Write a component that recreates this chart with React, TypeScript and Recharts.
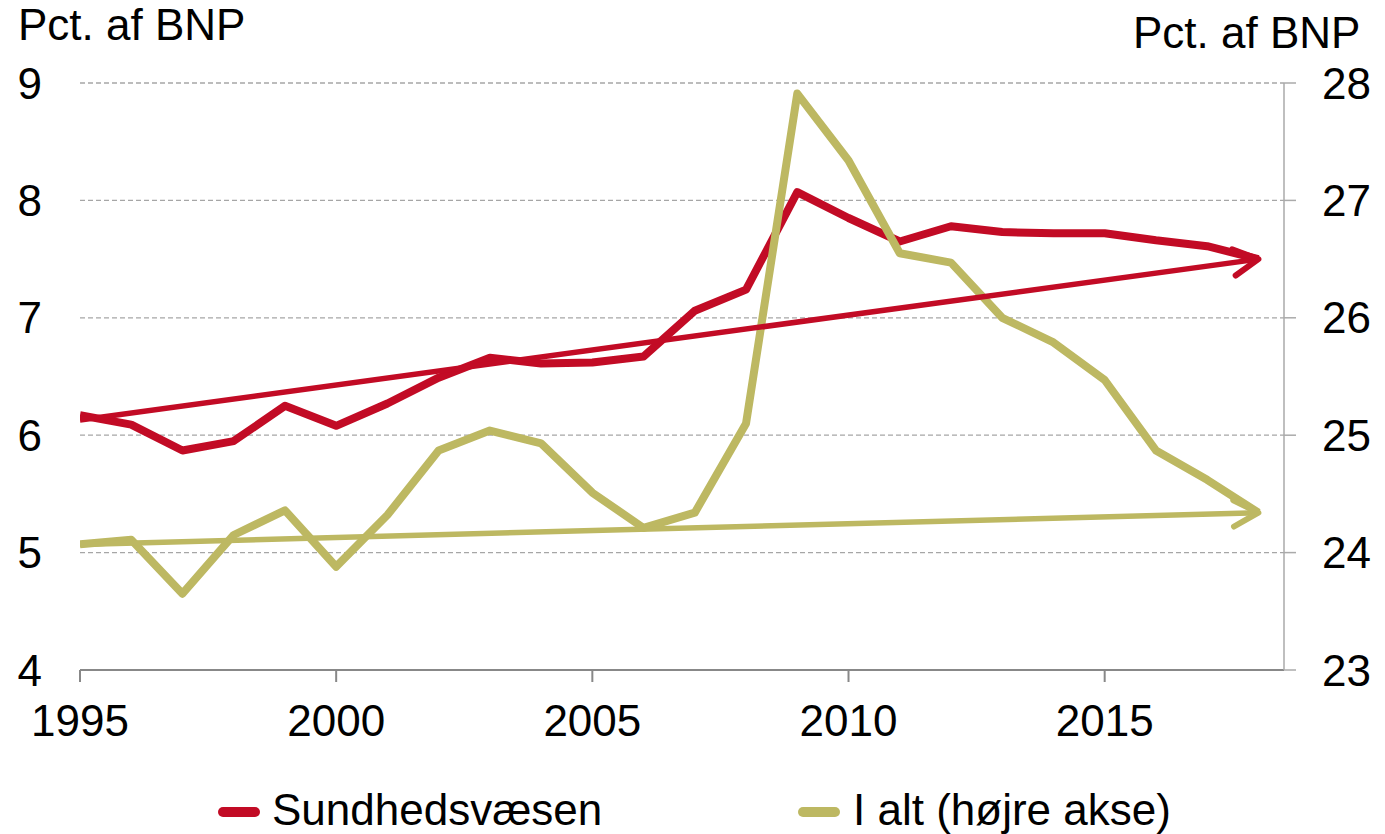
import React from 'react';
import { LineChart, Line, XAxis, YAxis, CartesianGrid } from 'recharts';

const years = [1995, 1996, 1997, 1998, 1999, 2000, 2001, 2002, 2003, 2004, 2005, 2006, 2007, 2008, 2009, 2010, 2011, 2012, 2013, 2014, 2015, 2016, 2017, 2018];
const sundhed = [6.17, 6.09, 5.87, 5.95, 6.25, 6.08, 6.27, 6.49, 6.66, 6.61, 6.62, 6.67, 7.06, 7.24, 8.07, 7.85, 7.65, 7.78, 7.73, 7.72, 7.72, 7.66, 7.61, 7.5];
const iAlt = [24.07, 24.11, 23.65, 24.15, 24.36, 23.88, 24.32, 24.87, 25.04, 24.93, 24.51, 24.21, 24.34, 25.1, 27.91, 27.34, 26.55, 26.47, 26.0, 25.79, 25.47, 24.87, 24.62, 24.34];
// trend arrows: start and end values only
const sundhedTrend = [6.13, 7.5];
const iAltTrend = [24.07, 24.34];

const xTicks = [1995, 2000, 2005, 2010, 2015];
const leftTicks = [4, 5, 6, 7, 8, 9];
const rightTicks = [23, 24, 25, 26, 27, 28];

const RED = '#C20B25';
const OLIVE = '#BDB862';
const FONT = '"Liberation Sans", Arial, sans-serif';

const last = years.length - 1;
const data = years.map((year, i) => ({
  year,
  sundhed: sundhed[i],
  iAlt: iAlt[i],
  sundhedTrend: i === 0 ? sundhedTrend[0] : i === last ? sundhedTrend[1] : null,
  iAltTrend: i === 0 ? iAltTrend[0] : i === last ? iAltTrend[1] : null,
}));

function ArrowHead(props: any) {
  const { cx, cy, index, points, stroke } = props;
  if (index !== last || cx == null || cy == null) return <g key={`a-${index}`} />;
  const start = (points || []).find((p: any) => p && p.x != null && p.y != null);
  const ang = start ? Math.atan2(cy - start.y, cx - start.x) : 0;
  const len = 28;
  const spread = (28 * Math.PI) / 180;
  const a1 = ang + Math.PI - spread;
  const a2 = ang + Math.PI + spread;
  const d = `M${cx + len * Math.cos(a1)},${cy + len * Math.sin(a1)} L${cx},${cy} L${cx + len * Math.cos(a2)},${cy + len * Math.sin(a2)}`;
  return (
    <path
      key={`a-${index}`}
      d={d}
      stroke={stroke}
      strokeWidth={6}
      fill="none"
      strokeLinecap="round"
      strokeLinejoin="round"
    />
  );
}

const tickStyle = { fontSize: 44, fill: '#000', fontFamily: FONT };

export default function App() {
  return (
    <div style={{ position: 'absolute', left: 0, top: 0, width: 1385, height: 834, background: '#fff', fontFamily: FONT }}>
      <div style={{ position: 'absolute', left: 18, top: 3, fontSize: 44, lineHeight: '44px', color: '#000' }}>Pct. af BNP</div>
      <div style={{ position: 'absolute', left: 1133, top: 11, fontSize: 44, lineHeight: '44px', color: '#000' }}>Pct. af BNP</div>

      <LineChart width={1385} height={834} data={data} margin={{ top: 83, right: 0, bottom: 104, left: 0 }}>
        <CartesianGrid yAxisId="left" vertical={false} stroke="#a6a6a6" strokeDasharray="5 3" strokeWidth={1.3} />
        <XAxis
          dataKey="year"
          type="number"
          domain={[1995, 2018.5]}
          ticks={xTicks}
          allowDataOverflow
          height={60}
          tick={tickStyle}
          tickSize={12}
          tickMargin={23}
          stroke="#888"
          strokeWidth={2}
        />
        <YAxis
          yAxisId="left"
          domain={[4, 9]}
          ticks={leftTicks}
          width={80}
          axisLine={false}
          tickLine={false}
          tickSize={0}
          tickMargin={38}
          tick={tickStyle}
        />
        <YAxis
          yAxisId="right"
          orientation="right"
          domain={[23, 28]}
          ticks={rightTicks}
          width={101}
          tickSize={12}
          tickMargin={26}
          tick={{ ...tickStyle, textAnchor: 'start' }}
          stroke="#aaa"
          strokeWidth={1.5}
        />
        <Line
          yAxisId="left"
          dataKey="sundhed"
          stroke={RED}
          strokeWidth={8}
          strokeLinejoin="round"
          dot={false}
          activeDot={false}
          isAnimationActive={false}
        />
        <Line
          yAxisId="right"
          dataKey="iAlt"
          stroke={OLIVE}
          strokeWidth={8}
          strokeLinejoin="round"
          dot={false}
          activeDot={false}
          isAnimationActive={false}
        />
        <Line
          yAxisId="left"
          dataKey="sundhedTrend"
          stroke={RED}
          strokeWidth={5.5}
          connectNulls
          dot={ArrowHead}
          activeDot={false}
          isAnimationActive={false}
        />
        <Line
          yAxisId="right"
          dataKey="iAltTrend"
          stroke={OLIVE}
          strokeWidth={5.5}
          connectNulls
          dot={ArrowHead}
          activeDot={false}
          isAnimationActive={false}
        />
      </LineChart>

      {/* legend */}
      <div style={{ position: 'absolute', left: 218, top: 807, width: 42, height: 10, borderRadius: 5, background: RED }} />
      <div style={{ position: 'absolute', left: 272, top: 788, fontSize: 44, lineHeight: '44px', color: '#000' }}>Sundhedsvæsen</div>
      <div style={{ position: 'absolute', left: 798, top: 807, width: 42, height: 10, borderRadius: 5, background: OLIVE }} />
      <div style={{ position: 'absolute', left: 853, top: 788, fontSize: 44, lineHeight: '44px', color: '#000' }}>I alt (højre akse)</div>
    </div>
  );
}
